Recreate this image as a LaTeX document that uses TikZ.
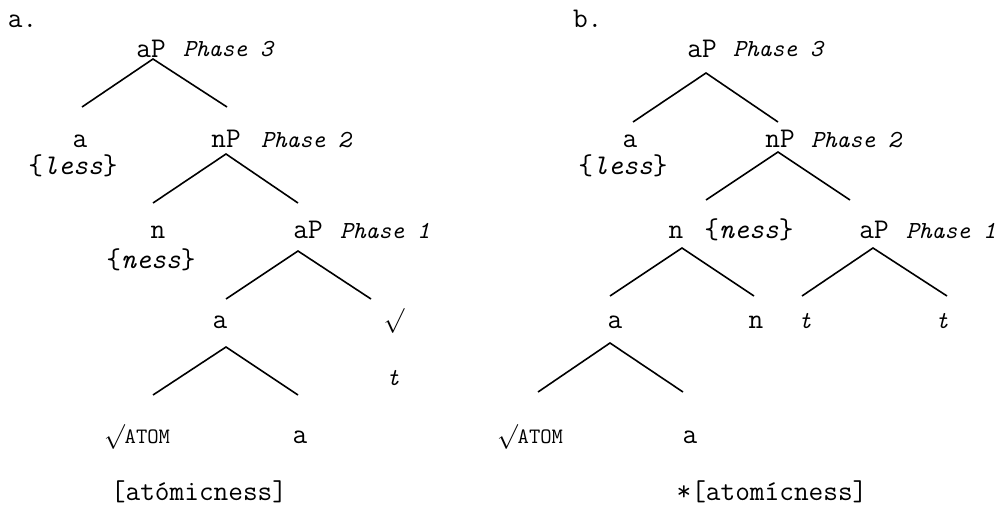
\documentclass[tikz,border=0pt]{standalone}
\usepackage{fontspec}
\usetikzlibrary{positioning}

\newcommand\rt[1]{{\fontsize{#1}{#1}\selectfont\ensuremath{\surd}}}
\newcommand\atomsc{\rt{23}{\fontsize{22}{26}\selectfont ATOM}}

\begin{document}
\begin{tikzpicture}[x=1pt,y=-1pt,line width=1.6pt,
  every node/.style={inner sep=0pt,outer sep=0pt},
  lbl/.style={anchor=base,font=\ttfamily\fontsize{28.5}{32}\selectfont},
  tag/.style={anchor=base west,font=\ttfamily\fontsize{28.5}{32}\selectfont},
  phase/.style={anchor=base west,font=\ttfamily\fontsize{24.5}{28}\selectfont\itshape},
  trace/.style={anchor=base,font=\ttfamily\fontsize{24.5}{28}\selectfont\itshape}]

  \useasboundingbox (0,0) rectangle (996,508);

  % tree a
  \node[tag] (la) at (8,28) {a.};
  \node[lbl] (aP3a) at (151,58) {aP};
  \node[phase] (ph3a) at (183,57) {Phase 3};
  \node[lbl] (aLa) at (80,148) {a};
  \node[lbl] (lessa) at (73,175) {\{\textit{less}\}};
  \node[lbl] (nP2a) at (226,148) {nP};
  \node[phase] (ph2a) at (261,148) {Phase 2};
  \node[lbl] (na) at (158,238) {n};
  \node[lbl] (nessa) at (151,268) {\{\textit{ness}\}};
  \node[lbl] (aP1a) at (308,238) {aP};
  \node[phase] (ph1a) at (340,238) {Phase 1};
  \node[lbl] (aa) at (220,328) {a};
  \node[lbl] (roota) at (394,327) {\rt{26}};
  \node[trace] (ta) at (393,385) {t};
  \node[tag] (atoma) at (104,443) {\atomsc};
  \node[lbl] (aha) at (300,443) {a};
  \node[lbl] (worda) at (199,500) {[atómicness]};

  \coordinate (fa1) at (153,59);  \coordinate (fa1-l) at (82,107);  \coordinate (fa1-r) at (227,107);
  \coordinate (fa2) at (226,154); \coordinate (fa2-l) at (153,203); \coordinate (fa2-r) at (298,203);
  \coordinate (fa3) at (298,251); \coordinate (fa3-l) at (226,299); \coordinate (fa3-r) at (371,299);
  \coordinate (fa4) at (226,347); \coordinate (fa4-l) at (153,395); \coordinate (fa4-r) at (298,395);

  % tree b
  \node[tag] (lb) at (573,28) {b.};
  \node[lbl] (aP3b) at (702,58) {aP};
  \node[phase] (ph3b) at (733,57) {Phase 3};
  \node[lbl] (aLb) at (630,147) {a};
  \node[lbl] (lessb) at (623,175) {\{\textit{less}\}};
  \node[lbl] (nP2b) at (780,147) {nP};
  \node[phase] (ph2b) at (811,147) {Phase 2};
  \node[lbl] (nb) at (676,238) {n};
  \node[lbl] (nessb) at (749,238) {\{\textit{ness}\}};
  \node[lbl] (aP1b) at (874,238) {aP};
  \node[phase] (ph1b) at (906,238) {Phase 1};
  \node[lbl] (ab) at (615,328) {a};
  \node[lbl] (nnb) at (756,328) {n};
  \node[trace] (t1b) at (805,328) {t};
  \node[trace] (t2b) at (942,328) {t};
  \node[tag] (atomb) at (497,443) {\atomsc};
  \node[lbl] (ahb) at (690,443) {a};
  \node[lbl] (wordb) at (772,500) {*[atomícness]};

  \coordinate (fb1) at (706,73);  \coordinate (fb1-l) at (633,122); \coordinate (fb1-r) at (778,122);
  \coordinate (fb2) at (778,152); \coordinate (fb2-l) at (706,200); \coordinate (fb2-r) at (850,200);
  \coordinate (fb3) at (682,248); \coordinate (fb3-l) at (610,296); \coordinate (fb3-r) at (754,296);
  \coordinate (fb4) at (873,248); \coordinate (fb4-l) at (802,296); \coordinate (fb4-r) at (947,296);
  \coordinate (fb5) at (610,343); \coordinate (fb5-l) at (538,392); \coordinate (fb5-r) at (683,392);

  \foreach \f in {fa1,fa2,fa3,fa4,fb1,fb2,fb3,fb4,fb5}
    \draw (\f-l) -- (\f) -- (\f-r);
\end{tikzpicture}
\end{document}
